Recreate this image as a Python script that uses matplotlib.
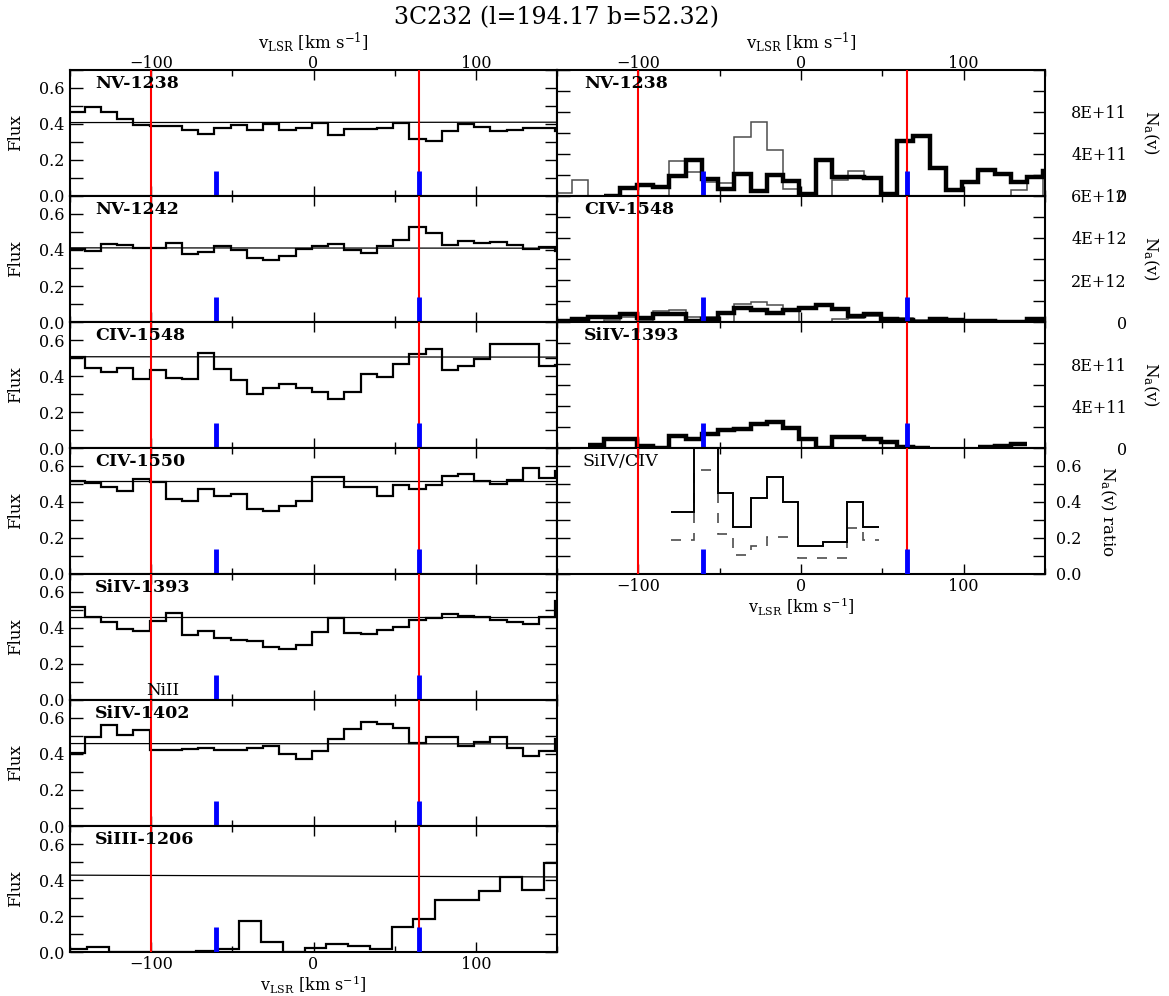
import numpy as np
import matplotlib
matplotlib.use('Agg')
import matplotlib.pyplot as plt
from matplotlib.ticker import MultipleLocator, FixedLocator, FuncFormatter, FormatStrFormatter

plt.rcParams['font.family'] = ['DejaVu Serif', 'DejaVu Sans']
plt.rcParams['mathtext.fontset'] = 'dejavuserif'

# ---------------- data ----------------
TITLE = "3C232 (l=194.17 b=52.32)"
VEL_RANGE = (-150, 150)
RED_LINES = [-100, 65]
BLUE_MARKS = [-60, 65]

flux_names = ["NV-1238", "NV-1242", "CIV-1548", "CIV-1550",
              "SiIV-1393", "SiIV-1402", "SiIII-1206"]

# 10 km/s bins starting at -151 km/s
bin_start = -151
bin_width = 10

flux_nv1238 = [0.467, 0.495, 0.467, 0.426, 0.393, 0.388, 0.390, 0.369, 0.342, 0.375,
               0.393, 0.366, 0.402, 0.367, 0.380, 0.406, 0.338, 0.373, 0.373, 0.378,
               0.408, 0.314, 0.305, 0.362, 0.399, 0.384, 0.360, 0.366, 0.380, 0.375, 0.362]
flux_nv1242 = [0.403, 0.394, 0.433, 0.425, 0.412, 0.412, 0.438, 0.377, 0.390, 0.424,
               0.400, 0.357, 0.344, 0.368, 0.405, 0.424, 0.431, 0.400, 0.386, 0.422,
               0.457, 0.526, 0.492, 0.425, 0.450, 0.438, 0.444, 0.425, 0.405, 0.418, 0.396]
flux_civ1548 = [0.507, 0.446, 0.423, 0.442, 0.385, 0.433, 0.390, 0.385, 0.526, 0.437,
                0.377, 0.301, 0.331, 0.353, 0.334, 0.310, 0.271, 0.310, 0.409, 0.394,
                0.464, 0.524, 0.550, 0.435, 0.457, 0.496, 0.576, 0.580, 0.580, 0.455, 0.461]
flux_civ1550 = [0.516, 0.503, 0.483, 0.460, 0.529, 0.512, 0.414, 0.404, 0.470, 0.436,
                0.447, 0.360, 0.352, 0.375, 0.404, 0.540, 0.540, 0.481, 0.483, 0.436,
                0.497, 0.470, 0.494, 0.544, 0.557, 0.516, 0.501, 0.524, 0.589, 0.535, 0.572]
flux_siiv1393 = [0.514, 0.461, 0.431, 0.392, 0.386, 0.439, 0.486, 0.362, 0.386, 0.347,
                 0.332, 0.328, 0.293, 0.281, 0.306, 0.377, 0.454, 0.373, 0.369, 0.388,
                 0.407, 0.444, 0.454, 0.476, 0.467, 0.463, 0.444, 0.435, 0.422, 0.459, 0.548]
flux_siiv1402 = [0.404, 0.497, 0.559, 0.507, 0.533, 0.423, 0.421, 0.427, 0.436, 0.423,
                 0.423, 0.436, 0.447, 0.402, 0.371, 0.415, 0.483, 0.538, 0.576, 0.568,
                 0.546, 0.460, 0.497, 0.492, 0.445, 0.466, 0.492, 0.432, 0.391, 0.417, 0.483]
# SiIII uses 13.4 km/s bins
siiii_bin_ref = 7.9
siiii_bin_width = 13.4
flux_siiii1206 = [0.019, 0.030, 0.002, 0.0, 0.0, 0.0, 0.006, 0.019, 0.175, 0.058,
                  0.0, 0.024, 0.045, 0.034, 0.019, 0.138, 0.181, 0.287, 0.287, 0.341,
                  0.414, 0.347, 0.496]

continuum_left = [0.408, 0.412, 0.507, 0.514, 0.459, 0.458, 0.427]
continuum_right = [0.410, 0.410, 0.505, 0.514, 0.459, 0.456, 0.417]

# Apparent column density panels
na_names = ["NV-1238", "CIV-1548", "SiIV-1393"]
# NV (thin: full range from -151; thick: from -121)
na_nv_thin = [0.32e11, 1.52e11, 0, 0, 0, 0, 0, 3.35e11, 2.25e11, 1.36e11,
              1.27e11, 5.63e11, 7.06e11, 4.37e11, 0.63e11, 0, 0, 1.52e11, 2.4e11, 1.6e11,
              0, 0, 0, 0, 0, 0, 0, 0, 0.57e11, 1.7e11, 0]
na_nv_thick_start = -121
na_nv_thick = [0, 0.73e11, 1.04e11, 0.85e11, 1.90e11, 3.42e11, 1.61e11, 0.66e11, 2.09e11, 0.47e11,
               1.99e11, 1.46e11, 0.15e11, 3.42e11, 1.84e11, 1.77e11, 1.68e11, 0.19e11, 5.25e11, 5.76e11,
               2.63e11, 0.57e11, 1.33e11, 2.47e11, 2.09e11, 1.36e11, 1.77e11, 2.4e11]
# CIV
na_civ_thin = [0, 0, 0, 0.10e12, 0.24e12, 0.05e12, 0.52e12, 0.59e12, 0.24e12, 0.24e12,
               0, 0.87e12, 0.95e12, 0.83e12, 0.56e12, 0, 0, 0.13e12, 0.21e12, 0.29e12,
               0.08e12, 0.21e12, 0.08e12, 0.21e12, 0.08e12, 0, 0, 0, 0, 0.10e12, 0.10e12]
na_civ_thick = [0.03e12, 0.16e12, 0.24e12, 0.24e12, 0.37e12, 0.21e12, 0.37e12, 0.40e12, 0.03e12, 0.16e12,
                0.43e12, 0.65e12, 0.56e12, 0.44e12, 0.56e12, 0.67e12, 0.81e12, 0.60e12, 0.29e12, 0.37e12,
                0.13e12, 0.08e12, 0.0, 0.16e12, 0.11e12, 0.03e12, 0.03e12, 0.0, 0.0, 0.13e12, 0.13e12]
# SiIV (from -131; NaN = no data)
na_siiv_start = -131
na_siiv_thick = [0.32e11, 0.81e11, 0.87e11, 0.16e11, 0.0, 1.13e11, 0.90e11, 1.35e11, 1.68e11, 1.77e11,
                 2.26e11, 2.52e11, 1.94e11, 0.90e11, 0.0, 1.03e11, 1.06e11, 0.81e11, 0.58e11, 0.06e11,
                 0.03e11, np.nan, np.nan, np.nan, 0.06e11, 0.16e11, 0.39e11]

# ratio panel
ratio_edges = [-80, -66, -51, -41.6, -31, -21, -11, -1.6, 13.7, 28.5, 38.3, 48]
ratio_solid = [0.346, 0.75, 0.452, 0.263, 0.42, 0.54, 0.40, 0.155, 0.176, 0.40, 0.26]
ratio_dashed = [0.19, 0.58, 0.22, 0.105, 0.155, 0.207, 0.207, 0.087, 0.087, 0.254, 0.19]

# ---------------- figure ----------------
W, H = 1169, 996
fig = plt.figure(figsize=(W / 100, H / 100), dpi=100)

LX0, LX1 = 70, 557
RX0, RX1 = 557, 1045
TOP = 70
PH = 126


def add_ax(x0, x1, row):
    y0 = TOP + PH * row
    y1 = y0 + PH
    return fig.add_axes([x0 / W, 1 - y1 / H, (x1 - x0) / W, (y1 - y0) / H])


def style_axes(ax):
    for s in ax.spines.values():
        s.set_linewidth(1.5)
    ax.set_xlim(*VEL_RANGE)
    ax.xaxis.set_major_locator(MultipleLocator(100))
    ax.xaxis.set_minor_locator(MultipleLocator(50))
    ax.tick_params(which='both', direction='in', top=True, bottom=True,
                   left=True, right=True, labelbottom=False, labeltop=False,
                   labelsize=11.5, width=1)
    ax.tick_params(axis='x', which='major', length=7, pad=4)
    ax.tick_params(axis='x', which='minor', length=4)
    ax.tick_params(axis='y', which='both', length=9)


def marks(ax):
    for v in RED_LINES:
        ax.axvline(v, color='red', lw=1.5, zorder=4)
    for v in BLUE_MARKS:
        ax.axvline(v, 0, 0.2, color='blue', lw=3.5, zorder=5, solid_capstyle='butt')


def draw_runs(ax, vals, edges, **kw):
    vals = np.asarray(vals, dtype=float)
    edges = np.asarray(edges, dtype=float)
    good = ~np.isnan(vals)
    i = 0
    n = len(vals)
    while i < n:
        if good[i]:
            j = i
            while j < n and good[j]:
                j += 1
            ax.stairs(vals[i:j], edges[i:j + 1], baseline=None, **kw)
            i = j
        else:
            i += 1


vlabel = r"v$_{\rm LSR}$ [km s$^{-1}$]"

flux_data = [flux_nv1238, flux_nv1242, flux_civ1548, flux_civ1550,
             flux_siiv1393, flux_siiv1402, flux_siiii1206]

for i, (name, vals) in enumerate(zip(flux_names, flux_data)):
    ax = add_ax(LX0, LX1, i)
    style_axes(ax)
    if name.startswith("SiIII"):
        k = np.arange(-12, -12 + len(vals) + 1)
        edges = siiii_bin_ref + siiii_bin_width * k
    else:
        edges = bin_start + bin_width * np.arange(len(vals) + 1)
    ax.stairs(vals, edges, baseline=None, color='black', lw=1.6, zorder=3)
    ax.plot(VEL_RANGE, [continuum_left[i], continuum_right[i]], color='black', lw=0.9, zorder=2)
    marks(ax)
    ax.set_ylim(0, 0.7)
    ax.yaxis.set_major_locator(MultipleLocator(0.2))
    ax.yaxis.set_minor_locator(MultipleLocator(0.1))
    ax.yaxis.set_major_formatter(FormatStrFormatter('%.1f'))
    ax.tick_params(axis='y', labelleft=True, labelright=False, pad=4)
    ax.text(-0.111, 0.5, "Flux", transform=ax.transAxes, rotation=90,
            ha='center', va='center', fontsize=12)
    ax.text(0.051, 0.895, name, transform=ax.transAxes, ha='left', va='center',
            fontsize=12.5, fontweight='bold', zorder=6)
    if name == "SiIV-1393":
        ax.text(-93, 0.004, "NiII", ha='center', va='bottom', fontsize=12, zorder=6)
    if i == 0:
        ax.tick_params(axis='x', which='major', labeltop=True, pad=-1.5)
        ax.xaxis.set_label_position('top')
        ax.set_xlabel(vlabel, fontsize=12)
        ax.xaxis.set_label_coords(0.5, 1.175)
    if i == len(flux_names) - 1:
        ax.tick_params(axis='x', which='major', labelbottom=True, pad=3)
        ax.set_xlabel(vlabel, fontsize=11.5)
        ax.xaxis.set_label_coords(0.5, -0.172)


def sci_fmt(v, pos):
    if abs(v) < 1:
        return "0"
    return "{:.0E}".format(v)


na_thin_data = [na_nv_thin, na_civ_thin, None]
na_thick_data = [na_nv_thick, na_civ_thick, na_siiv_thick]
na_thick_starts = [na_nv_thick_start, bin_start, na_siiv_start]
na_ylims = [1.2e12, 6e12, 1.2e12]
na_major = [[0, 4e11, 8e11], [0, 2e12, 4e12, 6e12], [0, 4e11, 8e11]]
na_minor = [2e11, 1e12, 2e11]

for i, name in enumerate(na_names):
    ax = add_ax(RX0, RX1, i)
    style_axes(ax)
    thin = na_thin_data[i]
    if thin is not None:
        edges = bin_start + bin_width * np.arange(len(thin) + 1)
        ax.stairs(thin, edges, baseline=None, color='0.3', lw=1.1, zorder=2)
    thick = na_thick_data[i]
    edges = na_thick_starts[i] + bin_width * np.arange(len(thick) + 1)
    draw_runs(ax, thick, edges, color='black', lw=3.2, zorder=3)
    marks(ax)
    ax.set_ylim(0, na_ylims[i])
    ax.yaxis.set_major_locator(FixedLocator(na_major[i]))
    ax.yaxis.set_minor_locator(MultipleLocator(na_minor[i]))
    ax.yaxis.set_major_formatter(FuncFormatter(sci_fmt))
    ax.tick_params(axis='y', labelleft=False, labelright=True, pad=59)
    for lbl in ax.get_yticklabels():
        lbl.set_horizontalalignment('right')
    ax.text(1.217, 0.5, r"N$_{\rm a}$(v)", transform=ax.transAxes, rotation=270,
            ha='center', va='center', fontsize=12)
    ax.text(0.055, 0.895, name, transform=ax.transAxes, ha='left', va='center',
            fontsize=12.5, fontweight='bold', zorder=6)
    if i == 0:
        ax.tick_params(axis='x', which='major', labeltop=True, pad=-1.5)
        ax.xaxis.set_label_position('top')
        ax.set_xlabel(vlabel, fontsize=12)
        ax.xaxis.set_label_coords(0.5, 1.175)

# ratio panel
ax = add_ax(RX0, RX1, 3)
style_axes(ax)
ax.stairs(ratio_dashed, ratio_edges, baseline=None, color='0.3', lw=1.2,
          linestyle=(0, (6, 6)), zorder=2)
ax.stairs(ratio_solid, ratio_edges, baseline=None, color='black', lw=1.4, zorder=3)
marks(ax)
ax.set_ylim(0, 0.7)
ax.yaxis.set_major_locator(MultipleLocator(0.2))
ax.yaxis.set_minor_locator(MultipleLocator(0.1))
ax.yaxis.set_major_formatter(FormatStrFormatter('%.1f'))
ax.tick_params(axis='y', labelleft=False, labelright=True, pad=8)
ax.tick_params(axis='x', which='major', labelbottom=True, pad=3)
ax.set_xlabel(vlabel, fontsize=11.5)
ax.xaxis.set_label_coords(0.5, -0.172)
ax.text(1.129, 0.5, r"N$_{\rm a}$(v) ratio", transform=ax.transAxes, rotation=270,
        ha='center', va='center', fontsize=12)
ax.text(0.053, 0.89, "SiIV/CIV", transform=ax.transAxes, ha='left', va='center',
        fontsize=12.5, zorder=6)

fig.text(557 / W, 1 - 18 / H, TITLE, ha='center', va='center', fontsize=17)

fig.savefig("out.png", dpi=100)
